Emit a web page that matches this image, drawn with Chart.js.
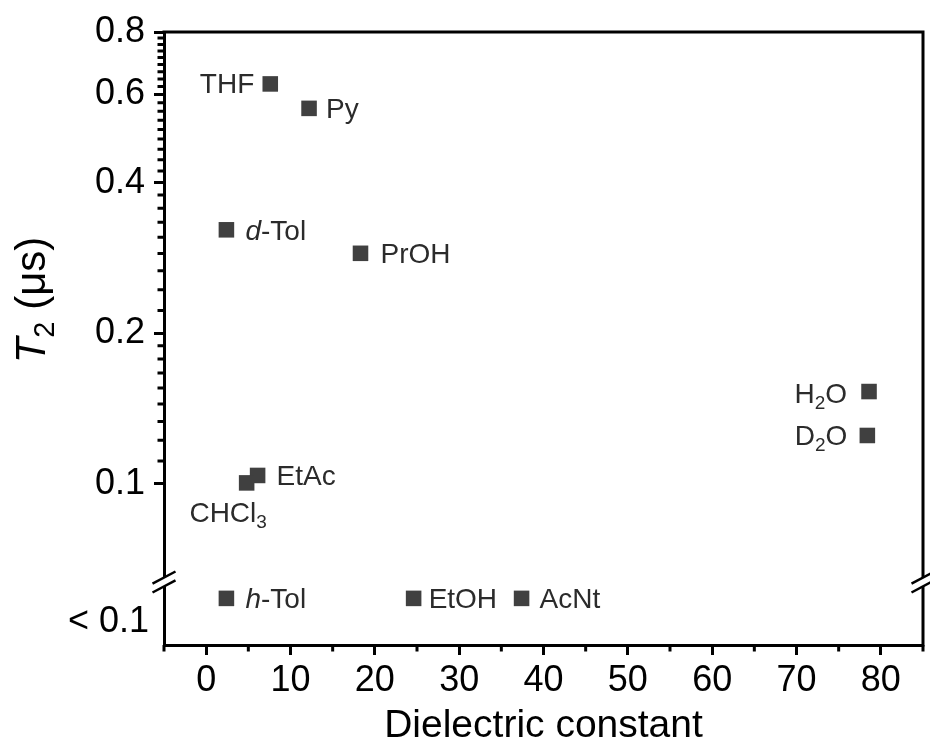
<!DOCTYPE html>
<html>
<head>
<meta charset="utf-8">
<script src="https://cdn.jsdelivr.net/npm/chart.js@4.4.1/dist/chart.umd.min.js"></script>
<style>
  html, body { margin: 0; padding: 0; background: #fff; }
  #wrap { width: 930px; height: 742px; }
</style>
</head>
<body>
<div id="wrap"><canvas id="graficoT2" width="930" height="742"></canvas></div>
<script>
// solvents with a measurable T2 (µs)
const solvents = ['THF', 'Py', 'd-Tol', 'PrOH', 'H2O', 'D2O', 'EtAc', 'CHCl3'];
const dielectric = [7.6, 12.2, 2.4, 18.3, 78.6, 78.4, 6.1, 4.8];
const t2 = [0.63, 0.563, 0.322, 0.289, 0.153, 0.125, 0.104, 0.1005];

// solvents where T2 falls below 0.1 µs
const fastSolvents = ['h-Tol', 'EtOH', 'AcNt'];
const fastDielectric = [2.4, 24.6, 37.4];

// axis ticks
const xTicks = [0, 10, 20, 30, 40, 50, 60, 70, 80];
const xMinorTicks = [-5, 5, 15, 25, 35, 45, 55, 65, 75, 85];
const yTicks = [0.1, 0.2, 0.4, 0.6, 0.8];
const lowBandLabel = '< 0.1';

const FONT = "'Liberation Sans', Arial, sans-serif";
const MARK_COLOR = '#404040';
const TEXT_COLOR = '#2b2b2b';

// lower band is a plain 0..1 strip under the log axis
const BAND_MARK = 0.74;
const BAND_LABEL = 0.36;

// 8 minor ticks between each pair of major ticks
const yMinorTicks = [];
for (let i = 0; i < yTicks.length - 1; i++) {
    const a = yTicks[i], b = yTicks[i + 1];
    for (let k = 1; k < 9; k++) yMinorTicks.push(a + (b - a) * k / 9);
}

// label pieces: i = italic, s = subscript
const labelParts = {
    'THF':   [['THF']],
    'Py':    [['Py']],
    'd-Tol': [['d', 'i'], ['-Tol']],
    'PrOH':  [['PrOH']],
    'H2O':   [['H'], ['2', 's'], ['O']],
    'D2O':   [['D'], ['2', 's'], ['O']],
    'EtAc':  [['EtAc']],
    'CHCl3': [['CHCl'], ['3', 's']],
    'h-Tol': [['h', 'i'], ['-Tol']],
    'EtOH':  [['EtOH']],
    'AcNt':  [['AcNt']]
};

// where each label sits next to its marker
const labelPlace = {
    'THF':   { align: 'right', dx: -16, dy: -1 },
    'Py':    { align: 'left', dx: 17, dy: 0 },
    'd-Tol': { align: 'left', dx: 19, dy: 0 },
    'PrOH':  { align: 'left', dx: 20, dy: 0 },
    'H2O':   { align: 'right', dx: -22, dy: 1.5 },
    'D2O':   { align: 'right', dx: -20, dy: 0 },
    'EtAc':  { align: 'left', dx: 19, dy: 0 },
    'CHCl3': { align: 'center', dx: -18.5, dy: 29.5 },
    'h-Tol': { align: 'left', dx: 19, dy: 0 },
    'EtOH':  { align: 'left', dx: 15, dy: 0 },
    'AcNt':  { align: 'left', dx: 18, dy: 0 }
};

function segFont(seg, size) {
    const sub = seg[1] === 's';
    const sz = sub ? Math.round(size * 0.68) : size;
    return (seg[1] === 'i' ? 'italic ' : '') + sz + 'px ' + FONT;
}

// draws mixed italic / subscript text along the baseline starting at x
function drawRich(ctx, parts, x, baseline, size, align) {
    ctx.textAlign = 'left';
    ctx.textBaseline = 'alphabetic';
    let total = 0;
    const widths = parts.map(seg => {
        ctx.font = segFont(seg, size);
        const w = ctx.measureText(seg[0]).width;
        total += w;
        return w;
    });
    let cx = align === 'right' ? x - total : align === 'center' ? x - total / 2 : x;
    parts.forEach((seg, i) => {
        ctx.font = segFont(seg, size);
        const off = seg[1] === 's' ? size * 0.21 : 0;
        ctx.fillText(seg[0], cx, baseline + off);
        cx += widths[i];
    });
}

const pointLabels = {
    id: 'pointLabels',
    afterDatasetsDraw(chart) {
        const ctx = chart.ctx;
        const size = 28;
        ctx.save();
        ctx.fillStyle = TEXT_COLOR;
        [solvents, fastSolvents].forEach((names, d) => {
            const meta = chart.getDatasetMeta(d);
            meta.data.forEach((pt, i) => {
                const name = names[i];
                const p = labelPlace[name];
                drawRich(ctx, labelParts[name], pt.x + p.dx, pt.y + p.dy + size * 0.358, size, p.align);
            });
        });
        ctx.restore();
    }
};

function drawBreak(ctx, x, y) {
    const half = 11.5, slope = 0.53, gap = 4.4;
    ctx.save();
    ctx.fillStyle = '#fff';
    ctx.beginPath();
    ctx.moveTo(x - half, y - gap + slope * half);
    ctx.lineTo(x + half, y - gap - slope * half);
    ctx.lineTo(x + half, y + gap - slope * half);
    ctx.lineTo(x - half, y + gap + slope * half);
    ctx.closePath();
    ctx.fill();
    ctx.strokeStyle = '#000';
    ctx.lineWidth = 2.5;
    [-gap, gap].forEach(g => {
        ctx.beginPath();
        ctx.moveTo(x - half, y + g + slope * half);
        ctx.lineTo(x + half, y + g - slope * half);
        ctx.stroke();
    });
    ctx.restore();
}

const frame = {
    id: 'frame',
    afterDraw(chart) {
        const { ctx, chartArea: a, scales } = chart;
        ctx.save();
        ctx.strokeStyle = '#000';
        ctx.lineWidth = 3;
        ctx.beginPath();
        ctx.moveTo(a.left - 1.5, a.top);
        ctx.lineTo(a.right, a.top);
        ctx.lineTo(a.right, a.bottom + 1.5);
        ctx.stroke();

        // short minor ticks
        ctx.beginPath();
        xMinorTicks.forEach(v => {
            const px = scales.x.getPixelForValue(v);
            ctx.moveTo(px, a.bottom);
            ctx.lineTo(px, a.bottom + 6.5);
        });
        yMinorTicks.forEach(v => {
            const py = scales.y.getPixelForValue(v);
            ctx.moveTo(a.left, py);
            ctx.lineTo(a.left - 6.5, py);
        });
        ctx.stroke();
        ctx.restore();

        // axis break between log part and the lower band
        const yb = scales.y.bottom;
        drawBreak(ctx, a.left, yb);
        drawBreak(ctx, a.right, yb);

        // y axis title: T2 (µs)
        ctx.save();
        ctx.fillStyle = '#000';
        ctx.translate(45, 300);
        ctx.rotate(-Math.PI / 2);
        drawRich(ctx, [['T', 'i'], ['2', 's'], [' (\u03bcs)']], 0, 0, 42, 'center');
        ctx.restore();
    }
};

// vertical axes keep a fixed width and no label overflow padding
function fixLeftAxis(s) {
    s.width = 164;
    s.paddingTop = 0;
    s.paddingBottom = 0;
}

const axisBorder = { color: '#000', width: 3 };
const tickFont = { family: FONT, size: 36 };

const ctx = document.getElementById('graficoT2').getContext('2d');
new Chart(ctx, {
    type: 'scatter',
    data: {
        datasets: [{
            label: 'T2',
            data: dielectric.map((x, i) => ({ x, y: t2[i] })),
            yAxisID: 'y'
        }, {
            label: lowBandLabel,
            data: fastDielectric.map(x => ({ x, y: BAND_MARK })),
            yAxisID: 'yLow'
        }]
    },
    options: {
        responsive: false,
        animation: false,
        layout: { autoPadding: false, padding: { top: 32, right: 7, bottom: 0, left: 0 } },
        elements: {
            point: {
                pointStyle: 'rect',
                radius: 11,
                hoverRadius: 11,
                backgroundColor: MARK_COLOR,
                borderWidth: 0
            }
        },
        plugins: {
            legend: { display: false },
            tooltip: { enabled: false }
        },
        scales: {
            x: {
                type: 'linear',
                position: 'bottom',
                min: -5,
                max: 85,
                afterBuildTicks: s => { s.ticks = xTicks.map(v => ({ value: v })); },
                afterFit: s => { s.height = 97; s.paddingLeft = 0; s.paddingRight = 0; },
                border: axisBorder,
                grid: { drawOnChartArea: false, tickLength: 10, tickWidth: 3, tickColor: '#000' },
                ticks: { font: tickFont, color: '#000', padding: 4, maxRotation: 0, autoSkip: false, callback: v => String(v) },
                title: {
                    display: true,
                    text: 'Dielectric constant',
                    color: '#000',
                    font: { family: FONT, size: 39, lineHeight: 0.8 },
                    padding: { top: 0, bottom: 0 }
                }
            },
            // stacked left axes are placed bottom-up in declaration order
            yLow: {
                type: 'linear',
                position: 'left',
                stack: 'left',
                stackWeight: 63,
                min: 0,
                max: 1,
                afterBuildTicks: s => { s.ticks = [{ value: BAND_LABEL }]; },
                afterFit: fixLeftAxis,
                border: axisBorder,
                grid: { drawOnChartArea: false, drawTicks: false },
                ticks: { font: tickFont, color: '#000', padding: 15, autoSkip: false, callback: () => lowBandLabel }
            },
            y: {
                type: 'logarithmic',
                position: 'left',
                stack: 'left',
                stackWeight: 550,
                min: 0.0637,
                max: 0.8,
                afterBuildTicks: s => { s.ticks = yTicks.map(v => ({ value: v })); },
                afterFit: fixLeftAxis,
                border: axisBorder,
                grid: { drawOnChartArea: false, tickLength: 10, tickWidth: 3, tickColor: '#000' },
                ticks: { font: tickFont, color: '#000', padding: 9, autoSkip: false, callback: v => String(v) }
            }
        }
    },
    plugins: [pointLabels, frame]
});
</script>
</body>
</html>
